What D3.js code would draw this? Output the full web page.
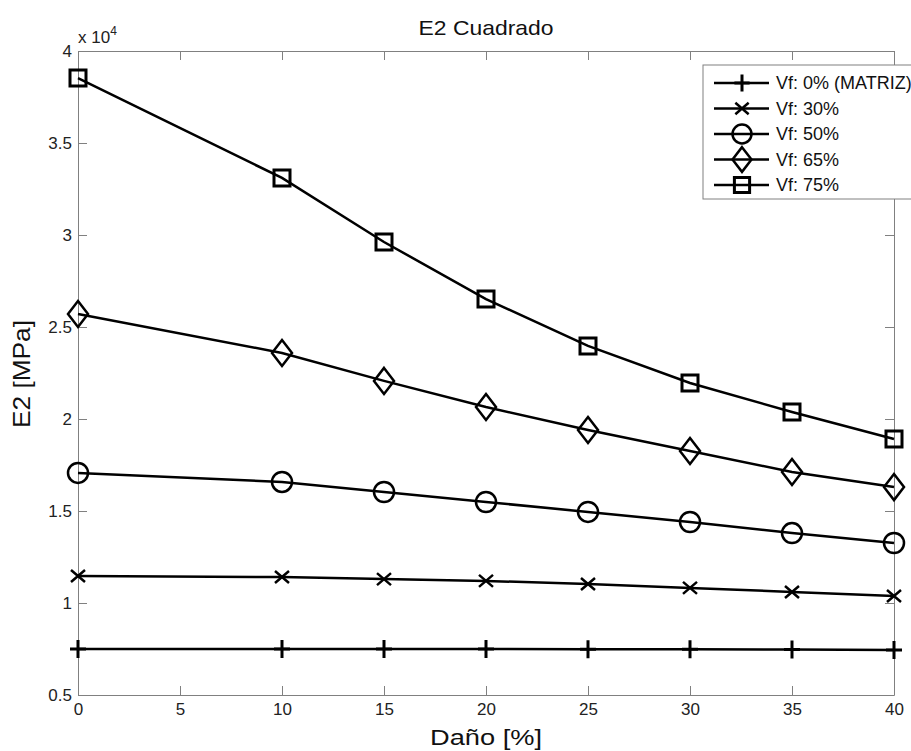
<!DOCTYPE html>
<html>
<head>
<meta charset="utf-8">
<script src="https://cdn.jsdelivr.net/npm/d3@7"></script>
<style>
    body { margin: 0; background: #fff; }
    svg { display: block; font-family: "Liberation Sans", Arial, sans-serif; }
</style>
</head>
<body>
<div id="chart"></div>
<script>
// data (E2 in MPa vs damage %)
const dano = [0, 10, 15, 20, 25, 30, 35, 40];
const vf0 = [7500, 7500, 7500, 7500, 7490, 7480, 7470, 7450];
const vf30 = [11470, 11410, 11300, 11200, 11030, 10820, 10600, 10380];
const vf50 = [17070, 16580, 16030, 15490, 14950, 14400, 13800, 13260];
const vf65 = [25710, 23590, 22070, 20650, 19400, 18260, 17120, 16300];
const vf75 = [38530, 33100, 29620, 26520, 23970, 21960, 20380, 18910];
const seriesNames = ["Vf: 0% (MATRIZ)", "Vf: 30%", "Vf: 50%", "Vf: 65%", "Vf: 75%"];
const seriesMarkers = ["plus", "x", "circle", "diamond", "square"];
const xTicks = [0, 5, 10, 15, 20, 25, 30, 35, 40];
const yTicks = [5000, 10000, 15000, 20000, 25000, 30000, 35000, 40000];

const series = [vf0, vf30, vf50, vf65, vf75].map((vals, i) => ({
    name: seriesNames[i],
    marker: seriesMarkers[i],
    values: vals.map((v, j) => ({x: dano[j], y: v}))
}));

const W = 911, H = 751;
const margin = {top: 51, right: 17, bottom: 56, left: 78};
const width = W - margin.left - margin.right;
const height = H - margin.top - margin.bottom;

const svg = d3.select("#chart").append("svg")
    .attr("width", W)
    .attr("height", H);

const g = svg.append("g")
    .attr("transform", "translate(" + margin.left + "," + margin.top + ")");

const x = d3.scaleLinear().domain([0, 40]).range([0, width]);
const y = d3.scaleLinear().domain([5000, 40000]).range([height, 0]);

const axisColor = "#808080";
const fmtY = d => String(d / 10000);

// axes (inward ticks on all four sides)
g.append("g").attr("transform", "translate(0," + height + ")")
    .call(d3.axisBottom(x).tickValues(xTicks).tickSizeInner(-9).tickSizeOuter(0).tickPadding(8));
g.append("g")
    .call(d3.axisTop(x).tickValues(xTicks).tickSizeInner(-9).tickSizeOuter(0).tickFormat(""));
g.append("g")
    .call(d3.axisLeft(y).tickValues(yTicks).tickSizeInner(-9).tickSizeOuter(0).tickPadding(6).tickFormat(fmtY));
g.append("g").attr("transform", "translate(" + width + ",0)")
    .call(d3.axisRight(y).tickValues(yTicks).tickSizeInner(-9).tickSizeOuter(0).tickFormat(""));

g.selectAll(".domain").attr("stroke", axisColor).attr("stroke-width", 1);
g.selectAll(".tick line").attr("stroke", axisColor).attr("stroke-width", 1);
g.selectAll(".tick text")
    .attr("fill", "#222")
    .style("font-size", "17px")
    .style("font-family", "Liberation Sans, Arial, sans-serif");

// exponent label
const expo = g.append("text")
    .attr("x", 0).attr("y", -8)
    .style("font-size", "17px")
    .attr("fill", "#222");
expo.append("tspan").text("x 10");
expo.append("tspan").attr("dy", -8).style("font-size", "12px").text("4");

// marker shapes
function markerPath(type, s) {
    s = s || 1;
    switch (type) {
        case "plus": return `M${-8 * s},0H${8 * s}M0,${-9 * s}V${9 * s}`;
        case "x": return `M${-7 * s},${-6 * s}L${7 * s},${6 * s}M${-7 * s},${6 * s}L${7 * s},${-6 * s}`;
        case "circle": {
            const r = 10 * s;
            return `M${r},0A${r},${r} 0 1,1 ${-r},0A${r},${r} 0 1,1 ${r},0Z`;
        }
        case "diamond": return `M0,${-13 * s}L${10 * s},0L0,${13 * s}L${-10 * s},0Z`;
        case "square": return `M${-8 * s},${-8 * s}H${8 * s}V${8 * s}H${-8 * s}Z`;
    }
}
const markerStroke = {plus: 3, x: 2.5, circle: 2.5, diamond: 2.5, square: 3};

const line = d3.line().x(d => x(d.x)).y(d => y(d.y));

const sg = g.selectAll(".series").data(series).join("g").attr("class", "series");
sg.append("path")
    .attr("fill", "none")
    .attr("stroke", "#000")
    .attr("stroke-width", 2.5)
    .attr("d", d => line(d.values));
sg.each(function (s) {
    d3.select(this).selectAll(".mk").data(s.values).join("path")
        .attr("class", "mk")
        .attr("transform", d => "translate(" + x(d.x) + "," + y(d.y) + ")")
        .attr("d", markerPath(s.marker))
        .attr("fill", "none")
        .attr("stroke", "#000")
        .attr("stroke-width", markerStroke[s.marker]);
});

// title and axis labels
svg.append("text")
    .attr("x", margin.left + width / 2).attr("y", 35)
    .attr("text-anchor", "middle")
    .style("font-size", "21px")
    .attr("textLength", 135).attr("lengthAdjust", "spacingAndGlyphs")
    .attr("fill", "#111")
    .text("E2 Cuadrado");
svg.append("text")
    .attr("x", margin.left + width / 2).attr("y", 745)
    .attr("text-anchor", "middle")
    .style("font-size", "22px")
    .attr("textLength", 112).attr("lengthAdjust", "spacingAndGlyphs")
    .attr("fill", "#111")
    .text("Daño [%]");
svg.append("text")
    .attr("transform", "translate(30,374) rotate(-90)")
    .attr("text-anchor", "middle")
    .style("font-size", "24px")
    .attr("textLength", 108).attr("lengthAdjust", "spacingAndGlyphs")
    .attr("fill", "#111")
    .text("E2 [MPa]");

// legend
const lg = svg.append("g").attr("transform", "translate(703,65)");
lg.append("rect")
    .attr("x", 0).attr("y", 0)
    .attr("width", 230).attr("height", 134)
    .attr("fill", "#fff")
    .attr("stroke", axisColor).attr("stroke-width", 1);
const rows = lg.selectAll(".row").data(series).join("g")
    .attr("class", "row")
    .attr("transform", (d, i) => "translate(0," + (18 + i * 25.5) + ")");
rows.append("line")
    .attr("x1", 11).attr("x2", 66)
    .attr("stroke", "#000").attr("stroke-width", 2.5);
rows.append("path")
    .attr("transform", "translate(39,0)")
    .attr("d", d => markerPath(d.marker, 0.95))
    .attr("fill", "none")
    .attr("stroke", "#000")
    .attr("stroke-width", d => markerStroke[d.marker]);
rows.append("text")
    .attr("x", 73).attr("y", 6)
    .style("font-size", "18px")
    .attr("fill", "#111")
    .text(d => d.name);
</script>
</body>
</html>
